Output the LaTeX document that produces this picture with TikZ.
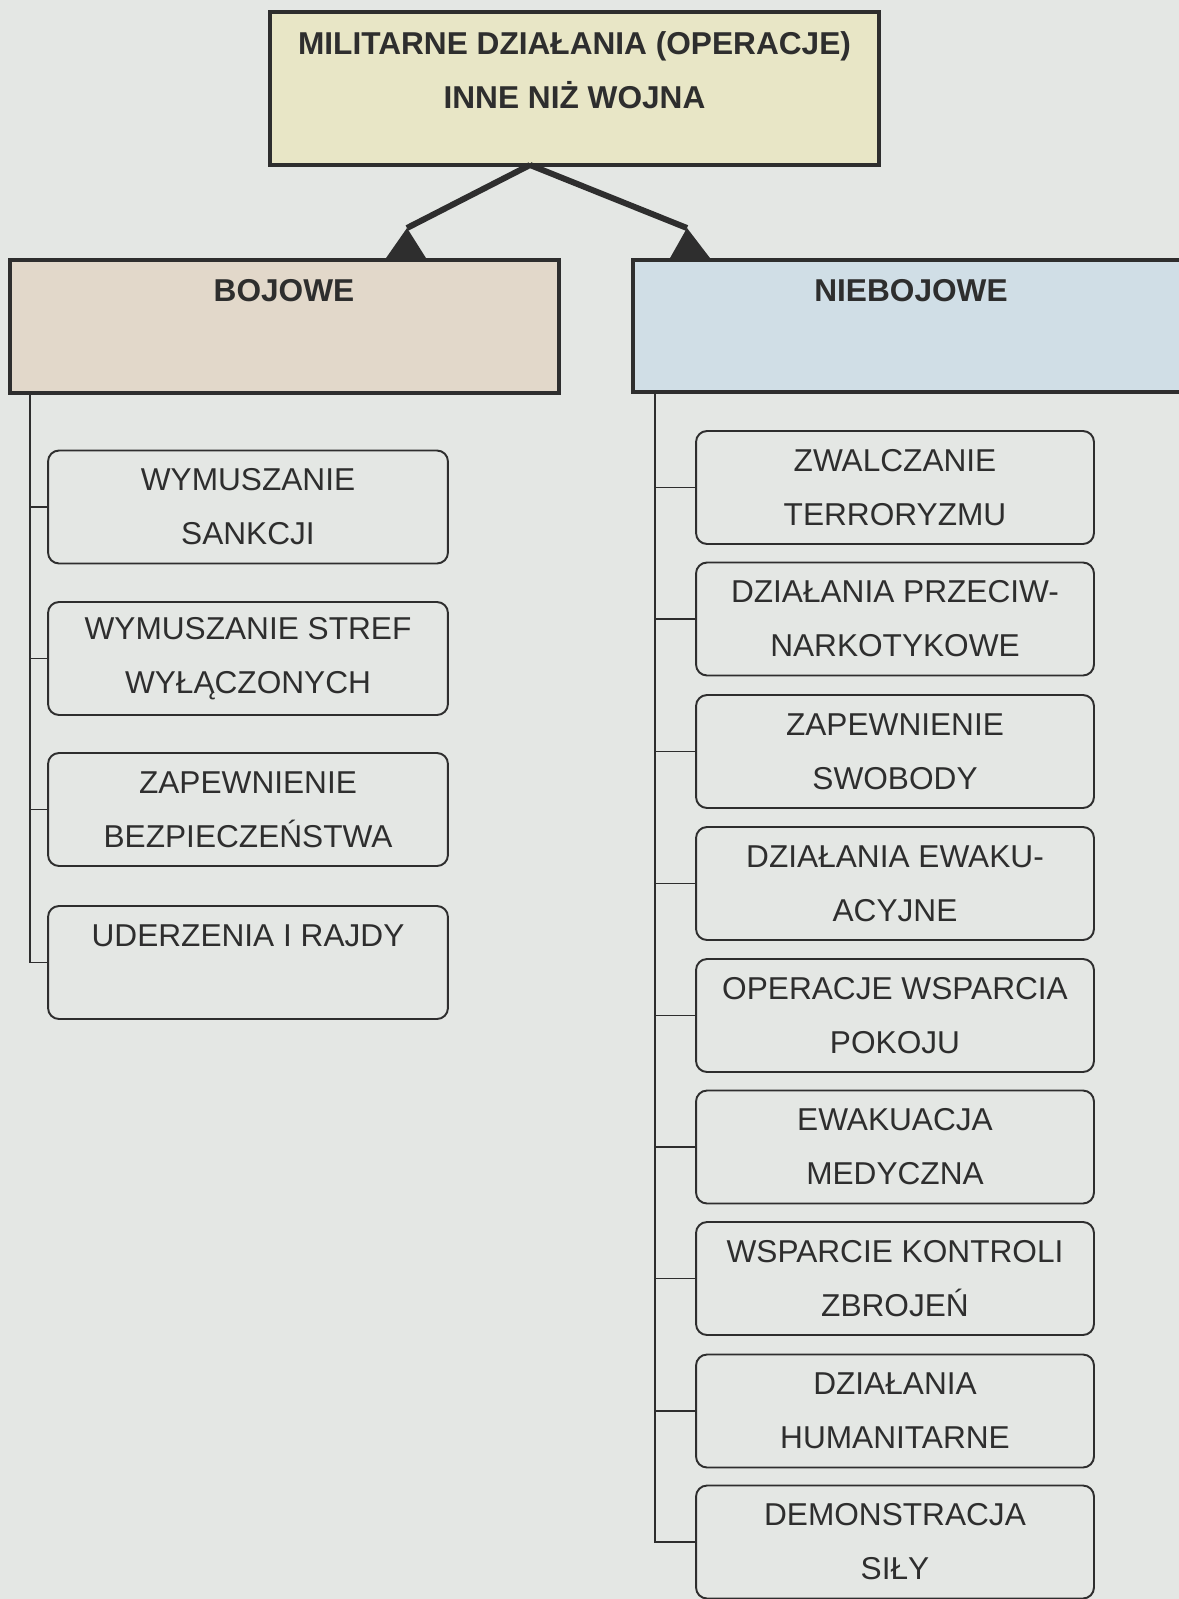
\documentclass[tikz,border=0pt]{standalone}
\usepackage{fontspec}
\setmainfont{Liberation Sans}
\usepackage{tikz}

\definecolor{paper}{HTML}{E4E7E4}
\definecolor{ink}{HTML}{2E2E2E}
\definecolor{topfill}{HTML}{E8E6C6}
\definecolor{bojfill}{HTML}{E2D8CA}
\definecolor{niebfill}{HTML}{D0DEE6}

\begin{document}
\begin{tikzpicture}[x=0.02cm, y=-0.02cm,
  head box/.style={rectangle, draw=ink, line width=2.2pt, inner sep=0pt},
  head text/.style={text=ink, align=center, inner sep=0pt, font=\fontsize{18}{30.7}\selectfont\bfseries},
  item box/.style={rectangle, rounded corners=0.22cm, draw=ink, line width=1.1pt, minimum width=8cm, minimum height=2.26cm, inner sep=0pt, align=center, text=ink, font=\fontsize{18}{30.7}\selectfont},
  right item/.style={item box, minimum width=7.96cm},
  link/.style={draw=ink, line width=1.1pt},
  arrow line/.style={draw=ink, line width=3.4pt}]
  \useasboundingbox (0,0) rectangle (1179,1599);
  \clip (0,0) rectangle (1179,1599);
  \fill[paper] (0,0) rectangle (1179,1599);

  \node[head box, fill=topfill, minimum width=12.18cm, minimum height=3.06cm] (main) at (574.5,88.5) {};
  \node[head text] (mainTxt) at (574.5,70) {MILITARNE DZIAŁANIA (OPERACJE)\\INNE NIŻ WOJNA};
  \node[head box, fill=bojfill, minimum width=10.98cm, minimum height=2.66cm] (boj) at (284.5,326.5) {};
  \node[head text] (bojTxt) at (284,291) {BOJOWE};
  \node[head box, fill=niebfill, minimum width=11.12cm, minimum height=2.64cm] (nieb) at (911,326) {};
  \node[head text] (niebTxt) at (911,291) {NIEBOJOWE};

  \coordinate (fork) at (530,165);
  \coordinate (bojTip) at (407,228);
  \coordinate (niebTip) at (687,228);
  \draw[arrow line] (fork) -- (bojTip);
  \draw[arrow line] (fork) -- (niebTip);
  \fill[ink] (bojTip) -- (386,0 |- boj.north) -- (426,0 |- boj.north) -- cycle;
  \fill[ink] (niebTip) -- (670,0 |- nieb.north) -- (710,0 |- nieb.north) -- cycle;

  \node[item box] (sankcje) at (248,507) {WYMUSZANIE\\SANKCJI};
  \node[item box] (strefy) at (248,658.5) {WYMUSZANIE STREF\\WYŁĄCZONYCH};
  \node[item box] (bezp) at (248,809.5) {ZAPEWNIENIE\\BEZPIECZEŃSTWA};
  \node[item box] (rajdy) at (248,962.5) {UDERZENIA I RAJDY\\\mbox{}};

  \node[right item] (terror) at (895,487.5) {ZWALCZANIE\\TERRORYZMU};
  \node[right item] (narko) at (895,619) {DZIAŁANIA PRZECIW-\\NARKOTYKOWE};
  \node[right item] (swoboda) at (895,751.5) {ZAPEWNIENIE\\SWOBODY};
  \node[right item] (ewak) at (895,883.5) {DZIAŁANIA EWAKU-\\ACYJNE};
  \node[right item] (pokoj) at (895,1015.5) {OPERACJE WSPARCIA\\POKOJU};
  \node[right item] (medyk) at (895,1147) {EWAKUACJA\\MEDYCZNA};
  \node[right item] (zbroje) at (895,1278.5) {WSPARCIE KONTROLI\\ZBROJEŃ};
  \node[right item] (human) at (895,1411) {DZIAŁANIA\\HUMANITARNE};
  \node[right item] (sila) at (895,1542) {DEMONSTRACJA\\SIŁY};

  \coordinate (bojRoot) at (30,0 |- boj.south);
  \draw[link] (bojRoot) |- (sankcje.west);
  \draw[link] (bojRoot) |- (strefy.west);
  \draw[link] (bojRoot) |- (bezp.west);
  \draw[link] (bojRoot) |- (rajdy.west);

  \coordinate (niebRoot) at (655,0 |- nieb.south);
  \draw[link] (niebRoot) |- (terror.west);
  \draw[link] (niebRoot) |- (narko.west);
  \draw[link] (niebRoot) |- (swoboda.west);
  \draw[link] (niebRoot) |- (ewak.west);
  \draw[link] (niebRoot) |- (pokoj.west);
  \draw[link] (niebRoot) |- (medyk.west);
  \draw[link] (niebRoot) |- (zbroje.west);
  \draw[link] (niebRoot) |- (human.west);
  \draw[link] (niebRoot) |- (sila.west);
\end{tikzpicture}
\end{document}
